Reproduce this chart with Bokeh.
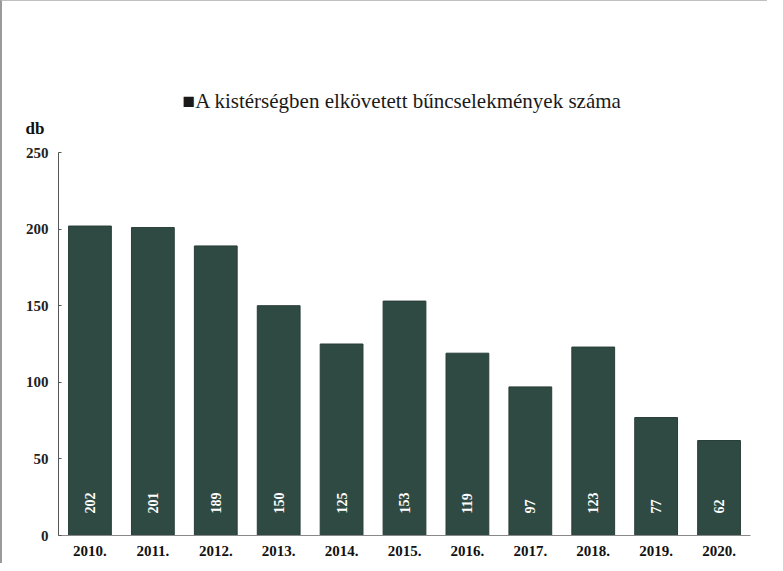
from bokeh.plotting import figure
from bokeh.models import ColumnDataSource, Title, FixedTicker
from bokeh.core.properties import value
from bokeh.embed import file_html
from bokeh.resources import INLINE

years = ["2010.", "2011.", "2012.", "2013.", "2014.", "2015.", "2016.", "2017.", "2018.", "2019.", "2020."]
counts = [202, 201, 189, 150, 125, 153, 119, 97, 123, 77, 62]
y_ticks = [0, 50, 100, 150, 200, 250]
series_name = "A kistérségben elkövetett bűncselekmények száma"
y_unit = "db"

src = ColumnDataSource(dict(year=years, count=counts, lbl=[str(c) for c in counts]))

p = figure(x_range=years, y_range=(0, 250), width=767, height=563,
           output_backend="svg", toolbar_location=None,
           min_border_left=56, min_border_right=19, min_border_top=151, min_border_bottom=29)
p.styles = {"border-left": "2px solid #9a9a9a", "border-top": "1px solid #c0c0c0"}

bars = p.vbar(x="year", top="count", width=0.68, source=src,
              fill_color="#2f4a43", line_color="#283d37", line_width=1)

p.text(x="year", y=0, text="lbl", source=src, angle=1.5708,
       text_align="left", text_baseline="middle", y_offset=-22,
       text_color="white", text_font=value("Liberation Serif"),
       text_font_style="bold", text_font_size="14px")

p.xgrid.visible = False
p.ygrid.visible = False
p.outline_line_color = None
p.background_fill_color = "white"

p.yaxis.ticker = FixedTicker(ticks=y_ticks)
p.yaxis.axis_line_color = "#555555"
p.yaxis.major_tick_line_color = "#555555"
p.yaxis.major_tick_in = 3
p.yaxis.major_tick_out = 0
p.yaxis.minor_tick_line_color = None
p.yaxis.major_label_text_font = "Liberation Serif"
p.yaxis.major_label_text_font_style = "bold"
p.yaxis.major_label_text_font_size = "15px"
p.yaxis.major_label_text_color = "#222222"
p.yaxis.major_label_standoff = 10

p.xaxis.axis_line_color = "#888888"
p.xaxis.major_tick_line_color = None
p.xaxis.minor_tick_line_color = None
p.xaxis.major_label_text_font = "Liberation Serif"
p.xaxis.major_label_text_font_style = "bold"
p.xaxis.major_label_text_font_size = "15px"
p.xaxis.major_label_text_color = "#111111"
p.xaxis.major_label_standoff = 4
p.x_range.range_padding = 0

db = Title(text=y_unit, align="left", offset=-33, standoff=30,
           text_font="Liberation Serif", text_font_style="bold",
           text_font_size="17px", text_color="#111111")
p.add_layout(db, "above")

legend_title = Title(text="\u25A0" + series_name, align="left", offset=124, standoff=-23,
                     text_font="Liberation Serif", text_font_style="normal",
                     text_font_size="21px", text_color="#1a1a1a")
p.add_layout(legend_title, "above")

open("out.html", "w").write(file_html(p, INLINE))
